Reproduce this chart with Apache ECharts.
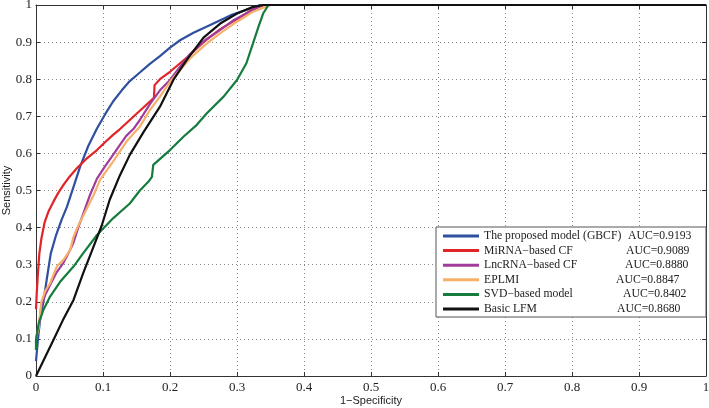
<!DOCTYPE html>
<html><head><meta charset="utf-8">
<script src="https://cdn.jsdelivr.net/npm/echarts@6/dist/echarts.min.js"></script>
<style>html,body{margin:0;padding:0;background:#fff}#c{width:709px;height:408px}</style>
</head><body><div id="c"></div>
<script>
const seriesNames = ['The proposed model (GBCF)', 'MiRNA\u2212based CF', 'LncRNA\u2212based CF', 'EPLMI', 'SVD\u2212based model', 'Basic LFM'];
const aucValues = ['0.9193', '0.9089', '0.8880', '0.8847', '0.8402', '0.8680'];
const colors = ['#2f4f9f', '#e02427', '#a03c9c', '#f7b06a', '#157c3e', '#111111'];
const xTicks = ['0','0.1','0.2','0.3','0.4','0.5','0.6','0.7','0.8','0.9','1'];

const gbcf = [[0,0.04],[0.003,0.1],[0.006,0.15],[0.011,0.2],[0.016,0.26],[0.022,0.33],[0.03,0.38],[0.038,0.42],[0.046,0.455],[0.056,0.51],[0.066,0.565],[0.078,0.62],[0.091,0.667],[0.103,0.705],[0.115,0.74],[0.128,0.77],[0.14,0.795],[0.155,0.818],[0.169,0.84],[0.185,0.862],[0.2,0.885],[0.215,0.905],[0.235,0.925],[0.26,0.946],[0.29,0.972],[0.319,0.99],[0.335,1],[1,1]];
const mirnaCF = [[0,0.18],[0.001,0.22],[0.003,0.28],[0.005,0.33],[0.008,0.37],[0.013,0.415],[0.019,0.445],[0.026,0.47],[0.033,0.493],[0.041,0.515],[0.05,0.537],[0.061,0.56],[0.075,0.585],[0.091,0.609],[0.103,0.63],[0.115,0.65],[0.125,0.665],[0.14,0.69],[0.155,0.715],[0.17,0.74],[0.176,0.75],[0.177,0.784],[0.185,0.8],[0.2,0.82],[0.215,0.843],[0.23,0.866],[0.25,0.9],[0.275,0.935],[0.3,0.962],[0.32,0.985],[0.34,1],[1,1]];
const lncrnaCF = [[0,0.1],[0.004,0.13],[0.008,0.19],[0.014,0.22],[0.021,0.245],[0.031,0.28],[0.041,0.305],[0.051,0.34],[0.056,0.36],[0.063,0.4],[0.071,0.44],[0.081,0.49],[0.091,0.532],[0.103,0.565],[0.115,0.596],[0.125,0.622],[0.135,0.648],[0.145,0.665],[0.155,0.69],[0.17,0.733],[0.185,0.77],[0.2,0.798],[0.215,0.834],[0.23,0.868],[0.252,0.905],[0.275,0.933],[0.294,0.958],[0.319,0.982],[0.337,1],[1,1]];
const eplmi = [[0,0.1],[0.004,0.13],[0.008,0.2],[0.014,0.23],[0.021,0.25],[0.031,0.295],[0.041,0.313],[0.051,0.34],[0.056,0.375],[0.063,0.405],[0.071,0.434],[0.086,0.488],[0.096,0.53],[0.105,0.553],[0.115,0.578],[0.125,0.605],[0.135,0.632],[0.145,0.652],[0.155,0.672],[0.17,0.717],[0.185,0.753],[0.2,0.793],[0.215,0.825],[0.23,0.856],[0.252,0.892],[0.275,0.924],[0.3,0.955],[0.324,0.982],[0.35,1],[1,1]];
const svd = [[0,0.07],[0,0.097],[0.004,0.142],[0.011,0.178],[0.021,0.214],[0.036,0.254],[0.056,0.295],[0.07,0.33],[0.091,0.38],[0.115,0.425],[0.14,0.465],[0.155,0.5],[0.168,0.524],[0.173,0.537],[0.175,0.569],[0.2,0.609],[0.22,0.645],[0.24,0.677],[0.255,0.708],[0.28,0.753],[0.3,0.798],[0.314,0.843],[0.324,0.897],[0.332,0.941],[0.339,0.977],[0.347,1],[1,1]];
const basicLFM = [[0,0],[0.026,0.097],[0.04,0.15],[0.056,0.205],[0.071,0.28],[0.083,0.335],[0.098,0.405],[0.11,0.475],[0.125,0.54],[0.14,0.596],[0.16,0.656],[0.185,0.726],[0.205,0.798],[0.225,0.852],[0.25,0.912],[0.275,0.95],[0.3,0.977],[0.324,0.995],[0.34,1],[1,1]];

const allData = [gbcf, mirnaCF, lncrnaCF, eplmi, svd, basicLFM];
const nameWidths = [144, 142, 141, 132, 139, 133];

const chart = echarts.init(document.getElementById('c'));
const serif = 'Liberation Serif, Times New Roman, serif';
const sans = 'Liberation Sans, Arial, sans-serif';
const rich = { a: { width: 66, fontFamily: serif, fontSize: 11.7, color: '#222', lineHeight: 14 } };
nameWidths.forEach((w, i) => { rich['n' + i] = { width: w, fontFamily: serif, fontSize: 11.7, color: '#222', lineHeight: 14 }; });

function axisCommon(extra) {
  return Object.assign({
    type: 'value', min: 0, max: 1, interval: 0.1,
    axisLine: { show: true, onZero: false, lineStyle: { color: '#333', width: 1 } },
    axisTick: { show: true, inside: true, length: 4, lineStyle: { color: '#333' } },
  }, extra);
}

chart.setOption({
  animation: false,
  backgroundColor: '#fff',
  grid: { left: 36, right: 3, top: 5, bottom: 32, containLabel: false, outerBoundsMode: 'none' },
  legend: {
    orient: 'vertical', left: 436, top: 227,
    padding: [3, 12, 2, 7], itemGap: 2.6,
    itemWidth: 36, itemHeight: 3, icon: 'rect', itemStyle: { borderWidth: 0 },
    borderColor: '#555', borderWidth: 1, backgroundColor: '#fff',
    data: seriesNames,
    formatter: function (name) {
      const i = seriesNames.indexOf(name);
      return '{n' + i + '|' + name + '}{a|AUC=' + aucValues[i] + '}';
    },
    textStyle: { rich: rich }
  },
  xAxis: [
    axisCommon({
      position: 'bottom',
      name: '1\u2212Specificity', nameLocation: 'middle', nameGap: 19, nameMoveOverlap: false,
      nameTextStyle: { fontFamily: sans, fontSize: 11, color: '#222' },
      axisLabel: { fontFamily: serif, fontSize: 13, color: '#222', margin: 5,
        formatter: v => xTicks[Math.round(v * 10)] },
      splitLine: { show: true, lineStyle: { type: [1, 3], color: '#888', width: 1 } }
    }),
    axisCommon({ position: 'top', axisLabel: { show: false }, splitLine: { show: false } })
  ],
  yAxis: [
    axisCommon({
      position: 'left',
      name: 'Sensitivity', nameLocation: 'middle', nameGap: 24, nameMoveOverlap: false,
      nameTextStyle: { fontFamily: sans, fontSize: 11, color: '#222' },
      axisLabel: { fontFamily: serif, fontSize: 13, color: '#222', margin: 4,
        formatter: v => xTicks[Math.round(v * 10)] },
      splitLine: { show: true, lineStyle: { type: [1, 3], color: '#888', width: 1 } }
    }),
    axisCommon({ position: 'right', axisLabel: { show: false }, splitLine: { show: false } })
  ],
  series: seriesNames.map((n, i) => ({
    name: n, type: 'line', data: allData[i], xAxisIndex: 0, yAxisIndex: 0,
    showSymbol: false, symbol: 'none', smooth: false,
    lineStyle: { color: colors[i], width: 2.2 }, itemStyle: { color: colors[i] },
    z: 2 + i
  }))
});
</script></body></html>
